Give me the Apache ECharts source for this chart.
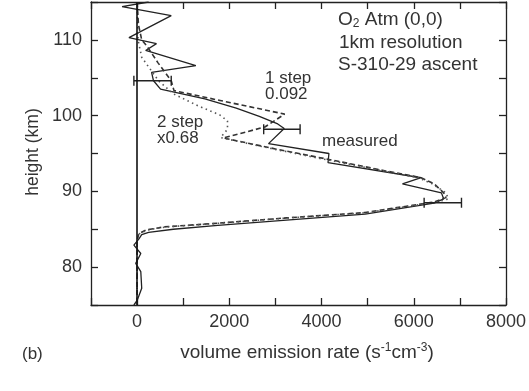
<!DOCTYPE html>
<html>
<head>
<meta charset="utf-8">
<script src="https://cdn.jsdelivr.net/npm/echarts@6/dist/echarts.min.js"></script>
<style>html,body{margin:0;padding:0;background:#fff;}#c{width:529px;height:391px;}</style>
</head>
<body>
<div id="c"></div>
<script>
// Measured profile (solid)
const measuredHeight = [115, 114.4, 113.2, 110.3, 109.5, 108.6, 106.6, 105.7, 104.6, 103.5, 102.2, 101.0, 99.9, 98.9, 98.3, 96.3, 95.0, 93.8, 91.8, 91.0, 89.8, 89.0, 88.45, 87.0, 86.2, 85.5, 85.0, 84.6, 84.3, 83.7, 82.9, 81.8, 80.5, 79.4, 77.2, 75.6, 75];
const measuredRate   = [250, -326, 740, -177, 420, 186, 1274, 314, 356, 508, 1470, 2150, 2650, 3050, 3190, 2850, 4160, 4140, 6160, 5755, 6600, 6650, 6440, 4946, 3239, 1750, 785, 250, 100, 36, -70, 80, -30, 80, 100, 0, -70];
// 1 step retrieval (dashed)
const oneStepHeight = [115, 112, 110, 109.2, 107, 104.6, 103.3, 102.0, 100.2, 98.5, 97.05, 95.6, 94.3, 92.7, 91.8, 91.0, 89.8, 89.2, 88.6, 87.2, 86.5, 85.8, 85.3, 84.9, 84.4, 83.5, 75];
const oneStepRate   = [0, 30, 100, 210, 450, 740, 800, 1800, 3200, 2770, 1870, 3000, 4090, 5390, 6160, 6440, 6650, 6700, 6440, 4940, 3240, 1750, 570, 190, 36, 0, 0];
// 2 step retrieval (dotted)
const twoStepHeight = [115, 110, 107.7, 104.6, 102.9, 101.3, 100.1, 99.3, 98.2, 97.1, 95.6, 94.3, 92.7, 91.8, 91.0, 89.8, 89.0, 88.6, 87.2, 86.5, 85.8, 85.3, 84.9, 84.4, 83.5, 75];
const twoStepRate   = [0, 20, 100, 465, 780, 1320, 1790, 1960, 1960, 1810, 2950, 4000, 5350, 6100, 6400, 6700, 6750, 6500, 5000, 3300, 1800, 620, 220, 50, 0, 0];
// Error bars: [centre rate, height, half width]
const errorBars = [[335, 104.6, 405], [3140, 98.2, 395], [6630, 88.5, 405]];
// Axis ticks
const xTickLabels = [0, 2000, 4000, 6000, 8000];
const yTickLabels = [80, 90, 100, 110];

const zip = (xs, ys) => xs.map((x, i) => [x, ys[i]]);
const txt = '#333';
const ff = 'Liberation Sans, Arial, sans-serif';

const chart = echarts.init(document.getElementById('c'));
const axisLine = {show: true, onZero: false, lineStyle: {color: '#222', width: 1.3}};
const tick = {show: true, inside: true, length: 7, lineStyle: {color: '#222', width: 1.3}};

chart.setOption({
  animation: false,
  grid: {left: 91, right: 16, top: 2, bottom: 86},
  xAxis: [
    {type: 'value', min: -1000, max: 8000, interval: 1000, position: 'bottom',
     axisLine, axisTick: tick, splitLine: {show: false},
     axisLabel: {fontSize: 18, color: txt, fontFamily: ff, margin: 8,
       formatter: v => xTickLabels.includes(v) ? String(v) : ''}},
    {type: 'value', min: -1000, max: 8000, interval: 1000, position: 'top',
     axisLine, axisTick: tick, splitLine: {show: false}, axisLabel: {show: false}}
  ],
  yAxis: [
    {type: 'value', min: 75, max: 115, interval: 5, position: 'left',
     axisLine, axisTick: tick, splitLine: {show: false},
     axisLabel: {fontSize: 18, color: txt, fontFamily: ff, margin: 9,
       formatter: v => yTickLabels.includes(v) ? String(v) : ''}},
    {type: 'value', min: 75, max: 115, interval: 5, position: 'right',
     axisLine, axisTick: tick, splitLine: {show: false}, axisLabel: {show: false}}
  ],
  series: [
    {type: 'line', name: 'measured', data: zip(measuredRate, measuredHeight), showSymbol: false,
     lineStyle: {color: '#222', width: 1.3}, z: 3,
     markLine: {silent: true, symbol: 'none', label: {show: false},
       lineStyle: {color: '#111', width: 1.6, type: 'solid'}, data: [{xAxis: 0}]}},
    {type: 'line', name: '1 step', data: zip(oneStepRate, oneStepHeight), showSymbol: false,
     lineStyle: {color: '#333', width: 1.6, type: [5, 3]}},
    {type: 'line', name: '2 step', data: zip(twoStepRate, twoStepHeight), showSymbol: false,
     lineStyle: {color: '#555', width: 1.6, type: [1.5, 3.5]}},
    {type: 'custom', name: 'error', data: errorBars, encode: {x: 0, y: 1}, z: 4,
     renderItem: (params, api) => {
       const c = api.value(0), y = api.value(1), h = api.value(2);
       const p1 = api.coord([c - h, y]), p2 = api.coord([c + h, y]);
       const cap = 5, st = {stroke: '#222', lineWidth: 1.4};
       return {type: 'group', children: [
         {type: 'line', shape: {x1: p1[0], y1: p1[1], x2: p2[0], y2: p2[1]}, style: st},
         {type: 'line', shape: {x1: p1[0], y1: p1[1] - cap, x2: p1[0], y2: p1[1] + cap}, style: st},
         {type: 'line', shape: {x1: p2[0], y1: p2[1] - cap, x2: p2[0], y2: p2[1] + cap}, style: st}
       ]};
     }}
  ],
  graphic: [
    {type: 'text', left: 338, top: 10, style: {text: 'O{sub|2} Atm (0,0)', fontSize: 19, fontFamily: ff, fill: txt,
      lineHeight: 20, rich: {sub: {fontSize: 12, lineHeight: 12, verticalAlign: 'bottom', fontFamily: ff, fill: txt}}}},
    {type: 'text', x: 339, y: 43, style: {text: '1km resolution', fontSize: 19, fontFamily: ff, fill: txt, verticalAlign: 'middle'}},
    {type: 'text', x: 338, y: 65, style: {text: 'S-310-29 ascent', fontSize: 19, fontFamily: ff, fill: txt, verticalAlign: 'middle'}},
    {type: 'text', x: 265, y: 78, style: {text: '1 step', fontSize: 17, fontFamily: ff, fill: txt, verticalAlign: 'middle'}},
    {type: 'text', x: 265, y: 94, style: {text: '0.092', fontSize: 17, fontFamily: ff, fill: txt, verticalAlign: 'middle'}},
    {type: 'text', x: 157, y: 122, style: {text: '2 step', fontSize: 17, fontFamily: ff, fill: txt, verticalAlign: 'middle'}},
    {type: 'text', x: 157, y: 138, style: {text: 'x0.68', fontSize: 17, fontFamily: ff, fill: txt, verticalAlign: 'middle'}},
    {type: 'text', x: 322, y: 141, style: {text: 'measured', fontSize: 17, fontFamily: ff, fill: txt, verticalAlign: 'middle'}},
    {type: 'text', x: 22, y: 354, style: {text: '(b)', fontSize: 17, fontFamily: ff, fill: txt, verticalAlign: 'middle'}},
    {type: 'text', x: 307, y: 353, style: {text: 'volume emission rate (s{sup|-1}cm{sup|-3})', fontSize: 19, fontFamily: ff, fill: txt,
      align: 'center', verticalAlign: 'middle', lineHeight: 22,
      rich: {sup: {fontSize: 12, lineHeight: 12, verticalAlign: 'top', fontFamily: ff, fill: txt}}}},
    {type: 'text', x: 33, y: 152, rotation: Math.PI / 2, style: {text: 'height (km)', fontSize: 17.5, fontFamily: ff, fill: txt,
      align: 'center', verticalAlign: 'middle'}}
  ]
});
</script>
</body>
</html>
